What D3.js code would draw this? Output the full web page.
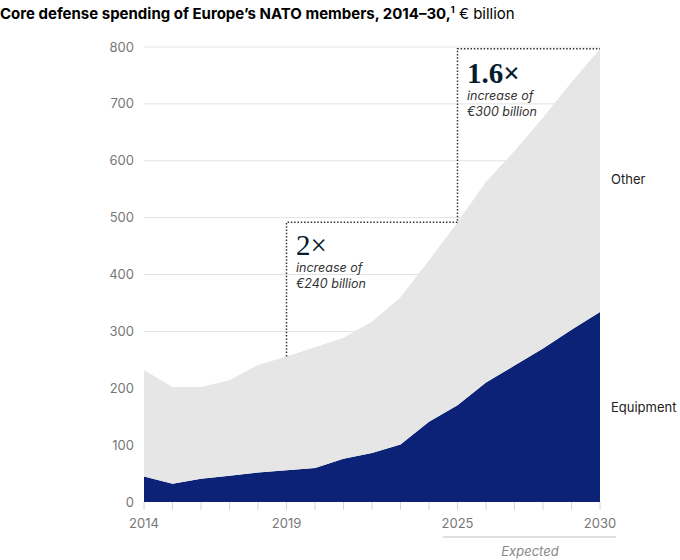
<!DOCTYPE html>
<html><head><meta charset="utf-8">
<script src="https://cdn.jsdelivr.net/npm/d3@7"></script>
<style>body{margin:0;background:#fff;} svg{display:block;}</style>
</head><body>
<svg id="c" width="680" height="560"></svg>
<script>
const years = [2014,2015,2016,2017,2018,2019,2020,2021,2022,2023,2024,2025,2026,2027,2028,2029,2030];
const equipment = [45,32,41,46,52,56,60,76,86,101,141,170,210,240,270,303,334];
const other = [187,170,161,168,189,200,212,213,231,259,284,322,353,377,406,435,463];
const yTicks = [0,100,200,300,400,500,600,700,800];
const xLabels = [2014,2019,2025,2030];
const seriesNames = ["Equipment","Other"];

const svg = d3.select("#c");
const font = "Inter, 'Liberation Sans', Arial, sans-serif";
const x = d3.scaleLinear().domain([2014,2030]).range([144,600]);
const y = d3.scaleLinear().domain([0,800]).range([502,47]);

const rows = years.map((yr,i)=>({year:yr, Equipment:equipment[i], Other:other[i]}));
const stack = d3.stack().keys(seriesNames)(rows);
const total = rows.map(r=>r.Equipment+r.Other);

// title
const t = svg.append("text").attr("x",0).attr("y",19).attr("font-family",font).attr("font-size",15).attr("fill","#000");
t.append("tspan").attr("font-weight",700).text("Core defense spending of Europe\u2019s NATO members, 2014\u201330,");
t.append("tspan").attr("font-weight",700).attr("font-size",9).attr("dy",-6).text("1");
t.append("tspan").attr("dy",6).text(" \u20ac billion");

// grid
svg.append("g").selectAll("line").data(yTicks.filter(d=>d>0)).join("line")
  .attr("x1",144).attr("x2",600).attr("y1",d=>y(d)).attr("y2",d=>y(d))
  .attr("stroke","#e3e3e3").attr("stroke-width",1);

// y labels
svg.append("g").selectAll("text").data(yTicks).join("text")
  .attr("x",134).attr("y",d=>y(d)).attr("dy","0.35em").attr("text-anchor","end")
  .attr("font-family",font).attr("font-size",13).attr("fill","#777").text(d=>d);

// areas
const area = d3.area().x(d=>x(d.data.year)).y0(d=>y(d[0])).y1(d=>y(d[1]));
const colors = {Equipment:"#0b2277", Other:"#e6e6e6"};
svg.append("g").selectAll("path").data(stack).join("path")
  .attr("d",area).attr("fill",d=>colors[d.key]);

// x ticks
svg.append("g").selectAll("line").data(years).join("line")
  .attr("x1",d=>x(d)).attr("x2",d=>x(d)).attr("y1",502).attr("y2",510)
  .attr("stroke","#d6d6d6").attr("stroke-width",1);
svg.append("g").selectAll("text").data(xLabels).join("text")
  .attr("x",d=>x(d)).attr("y",528).attr("text-anchor","middle")
  .attr("font-family",font).attr("font-size",13).attr("fill","#777").text(d=>d);

// dotted annotation path
const i19 = years.indexOf(2019), i25 = years.indexOf(2025), i30 = years.indexOf(2030);
const pts = [[2019,total[i19]],[2019,total[i25]],[2025,total[i25]],[2025,total[i30]],[2030,total[i30]]];
svg.append("path").attr("d", d3.line().x(d=>x(d[0])).y(d=>y(d[1]))(pts))
  .attr("fill","none").attr("stroke","#333").attr("stroke-width",1.5).attr("stroke-dasharray","1.5,1.8");

// annotation text
function annot(xp, yb, big, weight, l1, l2){
  svg.append("text").attr("x",xp).attr("y",yb).attr("font-family","'Liberation Serif','DejaVu Serif',serif")
    .attr("font-size",29).attr("font-weight",weight).attr("fill","#051c2c").text(big);
  svg.append("text").attr("x",xp).attr("y",yb+17).attr("font-family",font).attr("font-style","italic")
    .attr("font-size",12.5).attr("fill","#333").text(l1);
  svg.append("text").attr("x",xp).attr("y",yb+33).attr("font-family",font).attr("font-style","italic")
    .attr("font-size",12.5).attr("fill","#333").text(l2);
}
annot(296,255,"2\u00d7",400,"increase of","\u20ac240 billion");
annot(467,83,"1.6\u00d7",700,"increase of","\u20ac300 billion");

// series labels
svg.append("text").attr("x",611).attr("y",184).attr("font-family",font).attr("font-size",13).attr("fill","#222").text("Other");
svg.append("text").attr("x",611).attr("y",412).attr("font-family",font).attr("font-size",13).attr("fill","#222").text("Equipment");

// expected
svg.append("line").attr("x1",443).attr("x2",616).attr("y1",537).attr("y2",537).attr("stroke","#e0e0e0").attr("stroke-width",2);
svg.append("text").attr("x",530).attr("y",556).attr("text-anchor","middle").attr("font-family",font)
  .attr("font-style","italic").attr("font-size",13).attr("fill","#888").text("Expected");
</script>
</body></html>
